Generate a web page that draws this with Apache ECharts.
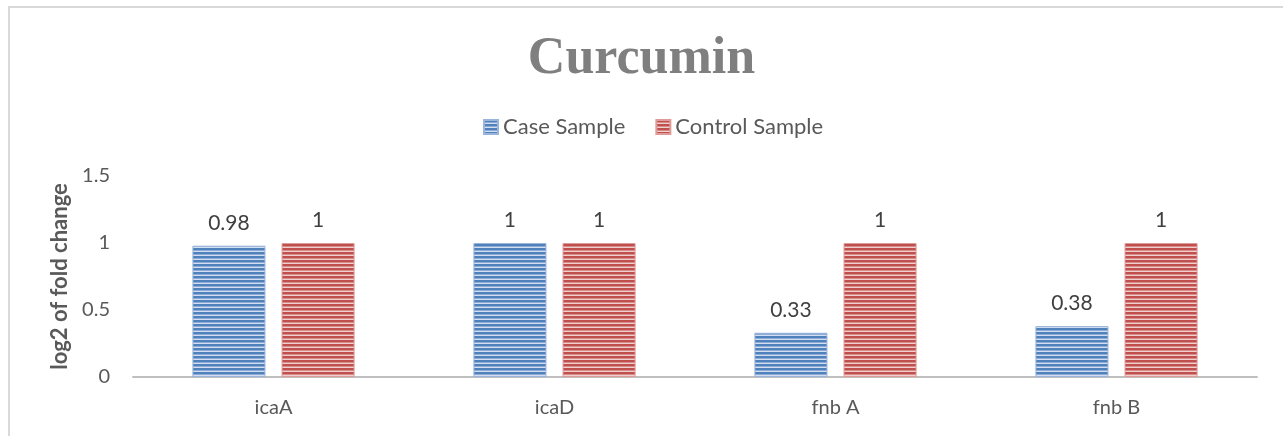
<!DOCTYPE html>
<html>
<head>
<meta charset="utf-8">
<script src="https://cdn.jsdelivr.net/npm/echarts@6/dist/echarts.min.js"></script>
<style>
  html, body { margin: 0; padding: 0; background: #fff; }
  #chart { width: 1283px; height: 436px; }
</style>
</head>
<body>
<div id="chart"></div>
<script>
const categories = ['icaA', 'icaD', 'fnb A', 'fnb B']
const caseSample = [0.98, 1, 0.33, 0.38]
const controlSample = [1, 1, 1, 1]
const yTicks = [0, 0.5, 1, 1.5]

// horizontal stripe fill, like the office "narrow horizontal" pattern
function stripes(dark, mid, light) {
    const c = document.createElement('canvas')
    c.width = 8
    c.height = 4
    const ctx = c.getContext('2d')
    ctx.fillStyle = dark
    ctx.fillRect(0, 0, 8, 2)
    ctx.fillStyle = mid
    ctx.fillRect(0, 2, 8, 1)
    ctx.fillStyle = light
    ctx.fillRect(0, 3, 8, 1)
    return {image: c, repeat: 'repeat'}
}

const blueFill = stripes('#4f81bd', '#8eaad6', '#d3deee')
const redFill = stripes('#c0504d', '#d88c8a', '#f0d0cf')

const font = 'Lato'

const chart = echarts.init(document.getElementById('chart'))

const labelStyle = {
    show: true,
    position: 'top',
    distance: 12,
    fontFamily: font,
    fontSize: 21,
    color: '#404040'
}

chart.setOption({
    animation: false,
    title: {
        text: 'Curcumin',
        left: 'center',
        top: 29,
        textStyle: {
            fontFamily: 'Liberation Serif',
            fontWeight: 'bold',
            fontSize: 52,
            color: '#7f7f7f'
        }
    },
    legend: {
        top: 111,
        left: 478,
        itemWidth: 14,
        itemHeight: 14,
        itemGap: 30,
        icon: 'rect',
        textStyle: {
            fontFamily: font,
            fontSize: 22,
            color: '#595959'
        }
    },
    grid: {
        left: 133,
        right: 26,
        top: 176,
        bottom: 59
    },
    xAxis: {
        type: 'category',
        data: categories,
        axisLine: {lineStyle: {color: '#bfbfbf', width: 2}},
        axisTick: {show: false},
        axisLabel: {
            margin: 21,
            fontFamily: font,
            fontSize: 20,
            color: '#595959'
        }
    },
    yAxis: {
        type: 'value',
        min: yTicks[0],
        max: yTicks[yTicks.length - 1],
        interval: 0.5,
        name: 'log2 of fold change',
        nameLocation: 'middle',
        nameGap: 60,
        nameTextStyle: {
            fontFamily: font,
            fontWeight: 'bold',
            fontSize: 22,
            color: '#595959'
        },
        axisLine: {show: false},
        axisTick: {show: false},
        splitLine: {show: false},
        axisLabel: {
            margin: 23,
            fontFamily: font,
            fontSize: 20,
            color: '#595959'
        }
    },
    series: [
        {
            name: 'Case Sample',
            type: 'bar',
            data: caseSample,
            barWidth: '26%',
            barGap: '22%',
            itemStyle: {color: blueFill, borderColor: '#9ab5dc', borderWidth: 1},
            label: labelStyle
        },
        {
            name: 'Control Sample',
            type: 'bar',
            data: controlSample,
            barWidth: '26%',
            itemStyle: {color: redFill, borderColor: '#e09a98', borderWidth: 1},
            label: labelStyle
        }
    ],
    graphic: [{
        type: 'polyline',
        silent: true,
        shape: {points: [[9, 436], [9, 7], [1283, 7]]},
        style: {stroke: '#d9d9d9', lineWidth: 2, fill: null}
    }]
})
</script>
</body>
</html>
